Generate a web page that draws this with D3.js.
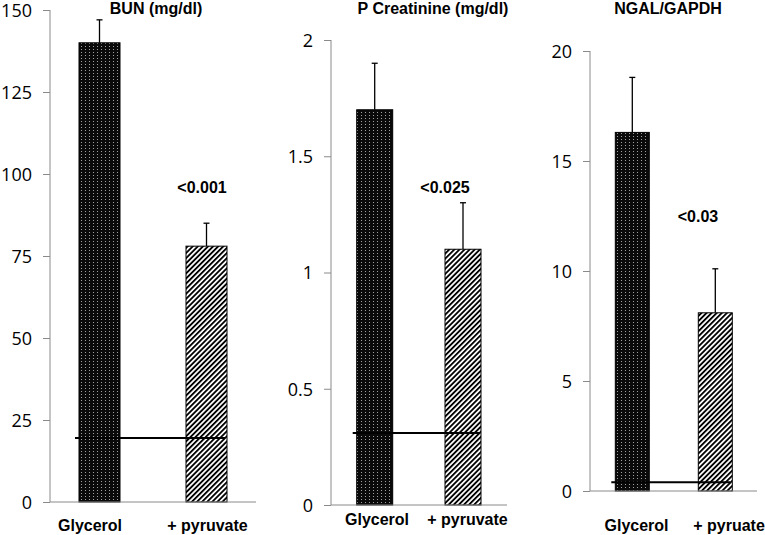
<!DOCTYPE html>
<html><head><meta charset="utf-8">
<script src="https://cdn.jsdelivr.net/npm/d3@7"></script>
<style>body{margin:0;background:#fff}svg{display:block}</style>
</head><body>
<svg id="chart" width="765" height="535"></svg>
<script>
// ---- data ----
const titles = ["BUN (mg/dl)", "P Creatinine (mg/dl)", "NGAL/GAPDH"];
const categories = [["Glycerol", "+ pyruvate"], ["Glycerol", "+ pyruvate"], ["Glycerol", "+ pyruate"]];
const means = [[140, 78], [1.7, 1.1], [16.3, 8.1]];
const errTops = [[147, 85], [1.9, 1.3], [18.8, 10.1]];
const normals = [19.5, 0.31, 0.4];
const pValues = ["<0.001", "<0.025", "<0.03"];
const yMax = [150, 2, 20];
const yTicks = [[0, 25, 50, 75, 100, 125, 150], [0, 0.5, 1, 1.5, 2], [0, 5, 10, 15, 20]];

// ---- layout ----
const layout = [
  {ax: 50, axEnd: 256, y0: 502, y1: 10, c: [99.5, 206.5], bw: 41, lab: [90, 207.5], labY: 531, tx: 156, pX: 202, pY: 193},
  {ax: 331, axEnd: 507, y0: 505, y1: 40, c: [374.7, 463], bw: 36, lab: [377, 467.5], labY: 525, tx: 433, pX: 445, pY: 193},
  {ax: 590, axEnd: 757, y0: 491, y1: 51, c: [632.3, 715.3], bw: 34, lab: [636.5, 729], labY: 531, tx: 668, pX: 698, pY: 222}
];

const svg = d3.select("#chart");
const defs = svg.append("defs");
const dots = defs.append("pattern").attr("id", "dots").attr("patternUnits", "userSpaceOnUse")
  .attr("width", 4).attr("height", 3);
dots.append("rect").attr("width", 4).attr("height", 3).attr("fill", "#0a0a0a");
dots.append("rect").attr("x", 1).attr("y", 1).attr("width", 1).attr("height", 1).attr("fill", "#a0a0a0");
const hatch = defs.append("pattern").attr("id", "hatch").attr("patternUnits", "userSpaceOnUse")
  .attr("width", 3.6).attr("height", 3.6).attr("patternTransform", "rotate(45)");
hatch.append("rect").attr("width", 3.6).attr("height", 3.6).attr("fill", "#fff");
hatch.append("line").attr("x1", 0.9).attr("y1", 0).attr("x2", 0.9).attr("y2", 3.6)
  .attr("stroke", "#000").attr("stroke-width", 1.9);
const fills = ["url(#dots)", "url(#hatch)"];

const font = "'Liberation Sans', Arial, sans-serif";

titles.forEach((t, i) => {
  const L = layout[i];
  const g = svg.append("g");
  const y = d3.scaleLinear().domain([0, yMax[i]]).range([L.y0, L.y1]);
  const x = d3.scalePoint().domain(categories[i]).range(L.c);
  const xl = d3.scalePoint().domain(categories[i]).range(L.lab);

  // y axis
  const yAxis = d3.axisLeft(y).tickValues(yTicks[i]).tickSize(7).tickPadding(11)
    .tickFormat(d3.format("~g"));
  const ga = g.append("g").attr("transform", `translate(${L.ax},0)`).call(yAxis);
  ga.select(".domain").attr("stroke", "#8a8a8a").attr("d", `M-0,${L.y1}V${L.y0}`);
  ga.selectAll(".tick line").attr("stroke", "#8a8a8a");
  ga.selectAll(".tick text").attr("fill", "#000").attr("dy", "0.36em")
    .style("font-family", "'Open Sans', sans-serif").style("font-size", "18px");

  const data = categories[i].map((c, j) => ({c, v: means[i][j], e: errTops[i][j], j}));
  g.selectAll(".err").data(data).enter().append("line")
    .attr("x1", d => x(d.c)).attr("x2", d => x(d.c))
    .attr("y1", d => y(d.v)).attr("y2", d => y(d.e))
    .attr("stroke", "#000").attr("stroke-width", 1.3);
  g.selectAll(".cap").data(data).enter().append("line")
    .attr("x1", d => x(d.c) - 3).attr("x2", d => x(d.c) + 3)
    .attr("y1", d => y(d.e)).attr("y2", d => y(d.e))
    .attr("stroke", "#000").attr("stroke-width", 1.3);
  g.selectAll(".bar").data(data).enter().append("rect")
    .attr("x", d => x(d.c) - L.bw / 2).attr("width", L.bw)
    .attr("y", d => y(d.v)).attr("height", d => y(0) - y(d.v))
    .attr("fill", d => fills[d.j]).attr("stroke", "#000").attr("stroke-width", 1);

  // x axis
  g.append("line").attr("x1", L.ax).attr("x2", L.axEnd).attr("y1", y(0)).attr("y2", y(0))
    .attr("stroke", "#8a8a8a").attr("stroke-width", 1);

  // normal line
  const c0 = categories[i][0], c1 = categories[i][1];
  g.append("line").attr("x1", x(c0) - L.bw / 2 - 4).attr("x2", x(c1) + L.bw / 2 - 2)
    .attr("y1", y(normals[i])).attr("y2", y(normals[i]))
    .attr("stroke", "#000").attr("stroke-width", 2);

  // category labels
  g.selectAll(".lab").data(categories[i]).enter().append("text")
    .attr("x", d => xl(d)).attr("y", L.labY).attr("text-anchor", "middle")
    .style("font-family", font).style("font-weight", "bold").style("font-size", "16px")
    .text(d => d);

  // title
  g.append("text").attr("x", L.tx).attr("y", 14).attr("text-anchor", "middle")
    .style("font-family", font).style("font-weight", "bold").style("font-size", "16px").text(t);

  // p value
  g.append("text").attr("x", L.pX).attr("y", L.pY).attr("text-anchor", "middle")
    .style("font-family", font).style("font-weight", "bold").style("font-size", "16px").text(pValues[i]);
});
</script>
</body></html>
